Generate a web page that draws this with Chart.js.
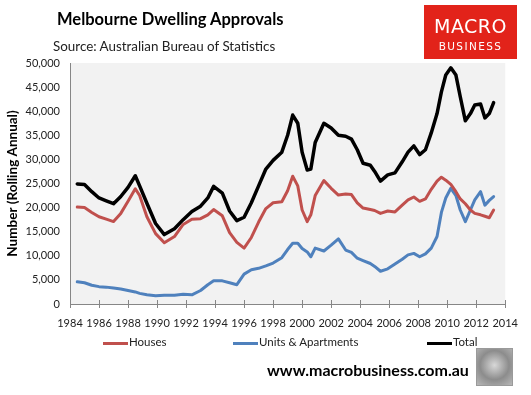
<!DOCTYPE html>
<html>
<head>
<meta charset="utf-8">
<script src="https://cdn.jsdelivr.net/npm/chart.js@4.4.0/dist/chart.umd.min.js"></script>
<style>
  html, body { margin: 0; padding: 0; background: #fff; }
  #wrap { position: relative; width: 531px; height: 395px; overflow: hidden; font-family: Lato, "Open Sans", sans-serif; }
  #chart { position: absolute; left: 0; top: 0; }
  .abs { position: absolute; white-space: nowrap; }
  #title { left: 57px; top: 9px; font-size: 16.5px; font-weight: bold; color: #000; }
  #source { left: 53px; top: 38px; font-size: 13.4px; color: #222; }
  #logo { left: 424px; top: 5px; width: 93px; height: 54px; background: #e2231a; color: #fff; text-align: center; }
  #logo .m { position: absolute; left: 0; right: 0; top: 10px; font-family: "DejaVu Sans", sans-serif; font-size: 19px; letter-spacing: 0.5px; }
  #logo .b { position: absolute; left: 0; right: 0; top: 35px; font-family: "DejaVu Sans", sans-serif; font-size: 10.5px; letter-spacing: 1.4px; }
  .leg { top: 335px; font-size: 11.5px; color: #222; }
  .leg i { display: inline-block; width: 25px; height: 3px; vertical-align: middle; margin-right: 1px; }
  #url { left: 267px; top: 360px; font-size: 16px; font-weight: bold; color: #000; }
  #wolf { left: 476px; top: 348px; width: 35px; height: 36px; border: 1px solid #9a9a9a; background: radial-gradient(circle at 50% 45%, #d8d8d8 0%, #8c8c8c 55%, #b8b8b8 100%); }
</style>
</head>
<body>
<div id="wrap">
  <canvas id="chart" width="531" height="395"></canvas>
  <div class="abs" id="title">Melbourne Dwelling Approvals</div>
  <div class="abs" id="source">Source: Australian Bureau of Statistics</div>
  <div class="abs" id="logo"><span class="m">MACRO</span><span class="b">BUSINESS</span></div>
  <div class="abs leg" style="left:103px"><i style="background:#c0504d"></i>Houses</div>
  <div class="abs leg" style="left:233px"><i style="background:#4f81bd"></i>Units &amp; Apartments</div>
  <div class="abs leg" style="left:427px"><i style="background:#000"></i>Total</div>
  <div class="abs" id="url">www.macrobusiness.com.au</div>
  <div class="abs" id="wolf"></div>
</div>
<script>
// year points (rolling annual)
const years = [1984.5, 1985.0, 1985.5, 1986.0, 1986.5, 1987.0, 1987.5, 1988.0, 1988.5, 1988.8,
  1989.3, 1989.9, 1990.5, 1991.2, 1991.8, 1992.4, 1993.0, 1993.5, 1993.9, 1994.5,
  1995.0, 1995.5, 1996.0, 1996.5, 1997.0, 1997.5, 1998.0, 1998.6, 1999.0, 1999.35,
  1999.7, 2000.0, 2000.35, 2000.6, 2000.9, 2001.5, 2002.0, 2002.5, 2003.0, 2003.4,
  2003.8, 2004.2, 2004.7, 2005.0, 2005.4, 2005.9, 2006.4, 2006.9, 2007.3, 2007.7,
  2008.1, 2008.5, 2008.9, 2009.3, 2009.6, 2009.9, 2010.25, 2010.6, 2010.9, 2011.25,
  2011.6, 2011.9, 2012.3, 2012.6, 2012.9, 2013.2];

const houses = [20100, 20000, 19000, 18100, 17600, 17100, 18800, 21300, 23900, 22500,
  18100, 14600, 12700, 14000, 16500, 17600, 17700, 18500, 19600, 18300,
  14800, 12800, 11600, 13800, 17000, 19800, 21000, 21200, 23500, 26500,
  24500, 19500, 17100, 18500, 22500, 25600, 24000, 22600, 22800, 22700,
  21000, 19900, 19600, 19400, 18800, 19300, 19100, 20500, 21600, 22200,
  21300, 21800, 23800, 25500, 26300, 25700, 24800, 23300, 21800, 20800,
  19500, 18800, 18500, 18200, 17900, 19500];

const units = [4600, 4400, 3900, 3600, 3500, 3300, 3100, 2800, 2500, 2200,
  1900, 1700, 1800, 1800, 2000, 1900, 2800, 4000, 4800, 4800,
  4400, 4000, 6200, 7100, 7400, 7900, 8500, 9600, 11300, 12600,
  12600, 11500, 10800, 9800, 11600, 11000, 12200, 13500, 11200, 10700,
  9500, 9000, 8400, 7800, 6800, 7300, 8300, 9300, 10200, 10500,
  9800, 10400, 11600, 14000, 19000, 22000, 24000, 22500, 19500, 17100,
  19500, 21600, 23300, 20500, 21500, 22300];

const total = [24900, 24800, 23300, 22000, 21400, 20800, 22300, 24200, 26600, 24500,
  20900, 16700, 14400, 15600, 17500, 19200, 20300, 22000, 24400, 23000,
  19300, 17300, 18000, 21000, 24500, 28000, 29800, 31500, 35000, 39200,
  37500, 31500, 27800, 28000, 33500, 37500, 36500, 35000, 34800, 34200,
  32000, 29200, 28800, 27500, 25500, 26800, 27200, 29500, 31500, 32800,
  31000, 32000, 35500, 39500, 44000, 47500, 49000, 47500, 43000, 38000,
  39500, 41300, 41500, 38600, 39500, 41800];

const yMax = 50000;
const yStep = 5000;
const xTicks = [1984, 1986, 1988, 1990, 1992, 1994, 1996, 1998, 2000, 2002, 2004, 2006, 2008, 2010, 2012, 2014];

function pts(vals) {
  return years.map((x, i) => ({ x: x, y: vals[i] }));
}

// grey plot background + x tick marks crossing the axis
const plotDeco = {
  id: 'plotDeco',
  beforeDraw(chart) {
    const a = chart.chartArea, c = chart.ctx;
    c.save();
    c.fillStyle = '#f2f2f2';
    c.fillRect(a.left, a.top, a.right - a.left, a.bottom - a.top);
    c.restore();
  },
  afterDraw(chart) {
    const a = chart.chartArea, c = chart.ctx, xs = chart.scales.x;
    c.save();
    c.strokeStyle = '#868686';
    c.lineWidth = 1;
    xTicks.forEach(t => {
      const px = Math.round(xs.getPixelForValue(t)) + 0.5;
      c.beginPath();
      c.moveTo(px, a.bottom - 4);
      c.lineTo(px, a.bottom + 4);
      c.stroke();
    });
    c.restore();
  }
};

const font = { family: 'Lato, "Open Sans", sans-serif', size: 11 };

new Chart(document.getElementById('chart'), {
  type: 'line',
  data: {
    datasets: [
      { label: 'Houses', data: pts(houses), borderColor: '#c0504d', borderWidth: 3 },
      { label: 'Units & Apartments', data: pts(units), borderColor: '#4f81bd', borderWidth: 3 },
      { label: 'Total', data: pts(total), borderColor: '#000000', borderWidth: 3.5 }
    ]
  },
  options: {
    responsive: false,
    animation: false,
    elements: { point: { radius: 0 }, line: { tension: 0, borderJoinStyle: 'round', borderCapStyle: 'round' } },
    layout: { padding: { left: 0, right: 18, top: 63, bottom: 0 } },
    plugins: { legend: { display: false }, tooltip: { enabled: false } },
    scales: {
      x: {
        type: 'linear', min: 1984, max: 2014,
        afterBuildTicks: s => { s.ticks = xTicks.map(v => ({ value: v })); },
        afterFit: s => { s.height = 91; },
        grid: { display: false, drawTicks: false },
        border: { display: true, color: '#868686', width: 1 },
        ticks: { color: '#222', font: font, padding: 13, maxRotation: 0, autoSkip: false, callback: v => String(v) }
      },
      y: {
        min: 0, max: yMax,
        afterFit: s => { s.width = 70; },
        grid: { display: false, drawTicks: false },
        border: { display: true, color: '#868686', width: 1 },
        ticks: { stepSize: yStep, color: '#222', font: font, padding: 10, callback: v => v.toLocaleString('en-US') },
        title: { display: true, text: 'Number (Rolling Annual)', color: '#000', font: { family: font.family, size: 13.5, weight: 'bold' }, padding: { top: 5, bottom: 0 } }
      }
    }
  },
  plugins: [plotDeco]
});
</script>
</body>
</html>
